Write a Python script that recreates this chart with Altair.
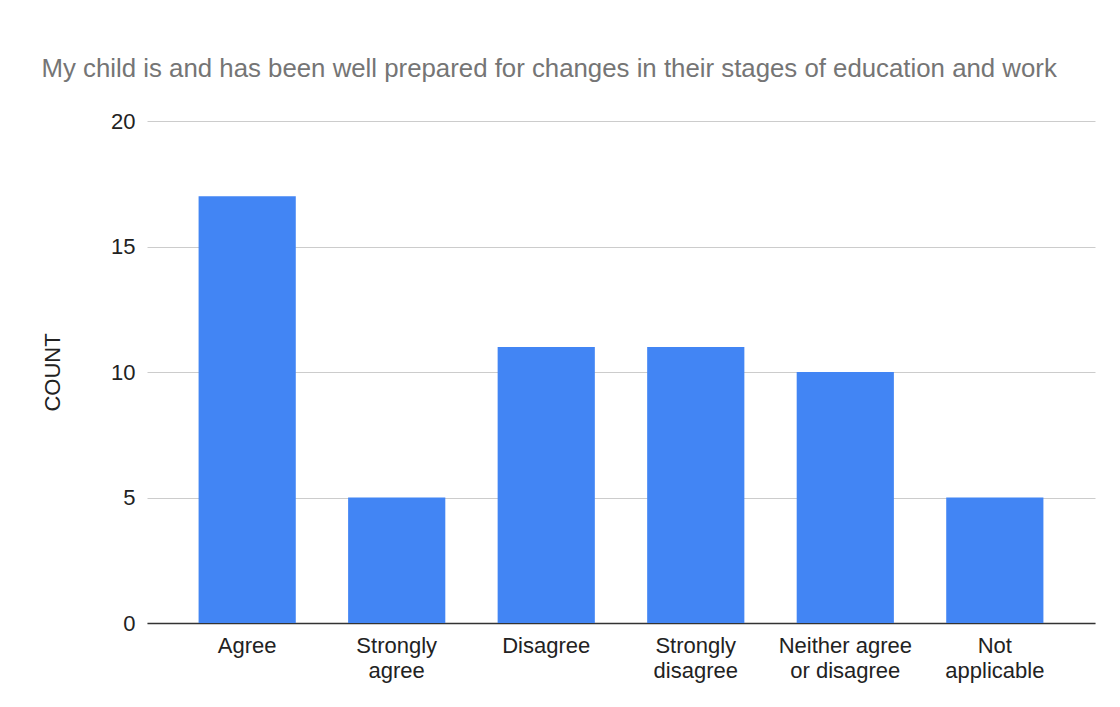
import altair as alt
import pandas as pd

categories = ["Agree", "Strongly agree", "Disagree", "Strongly disagree",
              "Neither agree or disagree", "Not applicable"]
counts = [17, 5, 11, 11, 10, 5]
y_ticks = [0, 5, 10, 15, 20]
title_text = "My child is and has been well prepared for changes in their stages of education and work"

df = pd.DataFrame({"category": categories, "count": counts})

FONT = "Liberation Sans"

chart = alt.Chart(df).mark_bar(color="#4285F4").encode(
    x=alt.X(
        "category:N",
        sort=categories,
        title=None,
        scale=alt.Scale(paddingInner=0.35, paddingOuter=0.345),
        axis=alt.Axis(
            labelAngle=0,
            labelFont=FONT,
            labelFontSize=22,
            labelColor="#222222",
            labelLineHeight=25,
            labelPadding=12,
            labelExpr="datum.label == 'Neither agree or disagree' ? ['Neither agree', 'or disagree'] : split(datum.label, ' ')",
            ticks=False,
            domainColor="#333333",
            domainWidth=1.3,
            grid=False,
        ),
    ),
    y=alt.Y(
        "count:Q",
        title="COUNT",
        scale=alt.Scale(domain=[0, 20], nice=False),
        axis=alt.Axis(
            values=y_ticks,
            labelFont=FONT,
            labelFontSize=22,
            labelColor="#222222",
            labelPadding=12,
            ticks=False,
            domain=False,
            gridColor="#cccccc",
            titleFont=FONT,
            titleFontSize=22,
            titleFontWeight="normal",
            titleColor="#222222",
            titlePadding=46,
        ),
    ),
).properties(
    width=948,
    height=502,
    title=alt.TitleParams(
        text=title_text,
        anchor="start",
        font=FONT,
        fontSize=25.8,
        fontWeight="normal",
        color="#757575",
        offset=27,
    ),
    autosize=alt.AutoSizeParams(type="none"),
    padding={"left": 139, "top": 113, "right": 17, "bottom": 76},
).configure(background="white").configure_view(stroke=None)

chart.save("out.html", embed_options={"renderer": "svg", "actions": False})
